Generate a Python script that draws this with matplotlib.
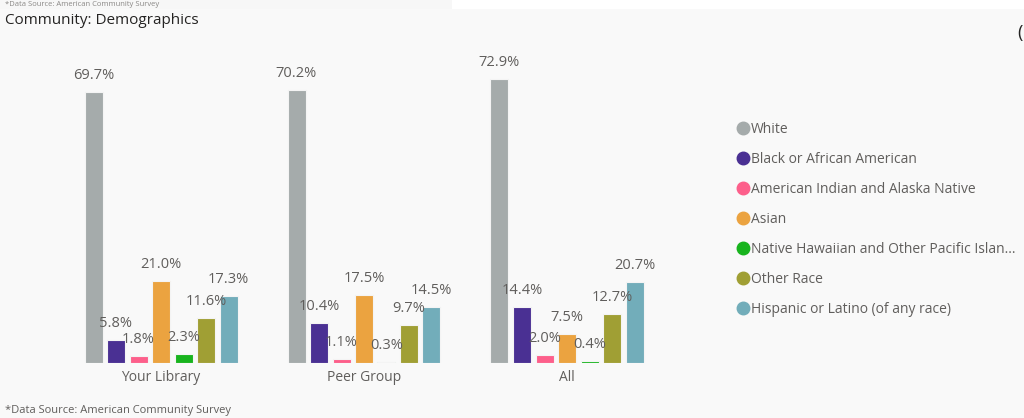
import matplotlib.pyplot as plt
import matplotlib.patches as mpatches
from matplotlib.lines import Line2D
import numpy as np

plt.rcParams['font.family'] = ['Open Sans', 'DejaVu Sans']

# groups and race categories
groups = ['Your Library', 'Peer Group', 'All']
races = ['White', 'Black or African American', 'American Indian and Alaska Native',
         'Asian', 'Native Hawaiian and Other Pacific Islan...', 'Other Race',
         'Hispanic or Latino (of any race)']

# percent of community population, one list per race, in group order
white = [69.7, 70.2, 72.9]
black = [5.8, 10.4, 14.4]
amer_indian = [1.8, 1.1, 2.0]
asian = [21.0, 17.5, 7.5]
hawaiian = [2.3, 0.3, 0.4]
other = [11.6, 9.7, 12.7]
hispanic = [17.3, 14.5, 20.7]

series = [white, black, amer_indian, asian, hawaiian, other, hispanic]
colors = ['#a5abab', '#4a3093', '#fd5f8b', '#eba340', '#18b41e', '#a09f34', '#72adba']

W, H = 1024, 418
fig = plt.figure(figsize=(W / 100, H / 100), dpi=100)
fig.patch.set_facecolor('#f9f9f9')

# white strip along the top edge
fig.add_artist(mpatches.Rectangle((0, 1 - 9 / H), 1, 9 / H, transform=fig.transFigure,
                                  facecolor='white', edgecolor='none', zorder=0))
fig.add_artist(mpatches.Rectangle((0, 1 - 9 / H), 452 / W, 9 / H, transform=fig.transFigure,
                                  facecolor='#f7f7f7', edgecolor='none', zorder=0))
fig.text(5 / W, 1 - 4.5 / H, '*Data Source: American Community Survey', fontsize=5.5,
         color='#8a8886', va='center', ha='left')

fig.text(5 / W, 1 - 20 / H, 'Community: Demographics', fontsize=11, color='#252423',
         va='center', ha='left')
fig.text(1017 / W, 1 - 33 / H, '(', fontsize=13, color='#252423', va='center', ha='left')
fig.text(5 / W, 8 / H, '*Data Source: American Community Survey', fontsize=8,
         color='#605e5c', va='center', ha='left')

# axes placed in pixel terms: baseline at y=363, top at y=40
left_px, right_px = 60, 680
ax = fig.add_axes([left_px / W, (H - 363) / H, (right_px - left_px) / W, (363 - 40) / H])
ax.set_facecolor('none')

step = 22.5
group_gap = 203 / step
ref_px = 161  # center of the middle bar of the first group
ax.set_xlim((left_px - ref_px) / step, (right_px - ref_px) / step)
ax.set_ylim(0, 323 / 3.89)

centers = np.arange(len(groups)) * group_gap
for i, (vals, c) in enumerate(zip(series, colors)):
    x = centers + i - 3
    ax.bar(x, vals, width=0.8, color=c, edgecolor='#f4f4f4', linewidth=0.8)
    for xi, v in zip(x, vals):
        ax.annotate(f'{v:.1f}%', (xi, v), xytext=(0, 6.5), textcoords='offset points',
                    ha='center', va='bottom', fontsize=10.5, color='#605e5c')

ax.set_xticks(centers)
ax.set_xticklabels(groups, fontsize=10, color='#605e5c')
ax.tick_params(axis='x', length=0, pad=5)
ax.set_yticks([])
for s in ax.spines.values():
    s.set_visible(False)

handles = [Line2D([], [], marker='o', linestyle='none', markersize=9,
                  markerfacecolor=c, markeredgecolor=c) for c in colors]
fig.legend(handles, races, loc='upper left', bbox_to_anchor=(729 / W, 1 - 116 / H),
           frameon=False, fontsize=10, labelcolor='#605e5c', handletextpad=0.0,
           labelspacing=1.08, handlelength=1.2, borderaxespad=0)

fig.savefig('out.png', dpi=100, facecolor=fig.get_facecolor())
